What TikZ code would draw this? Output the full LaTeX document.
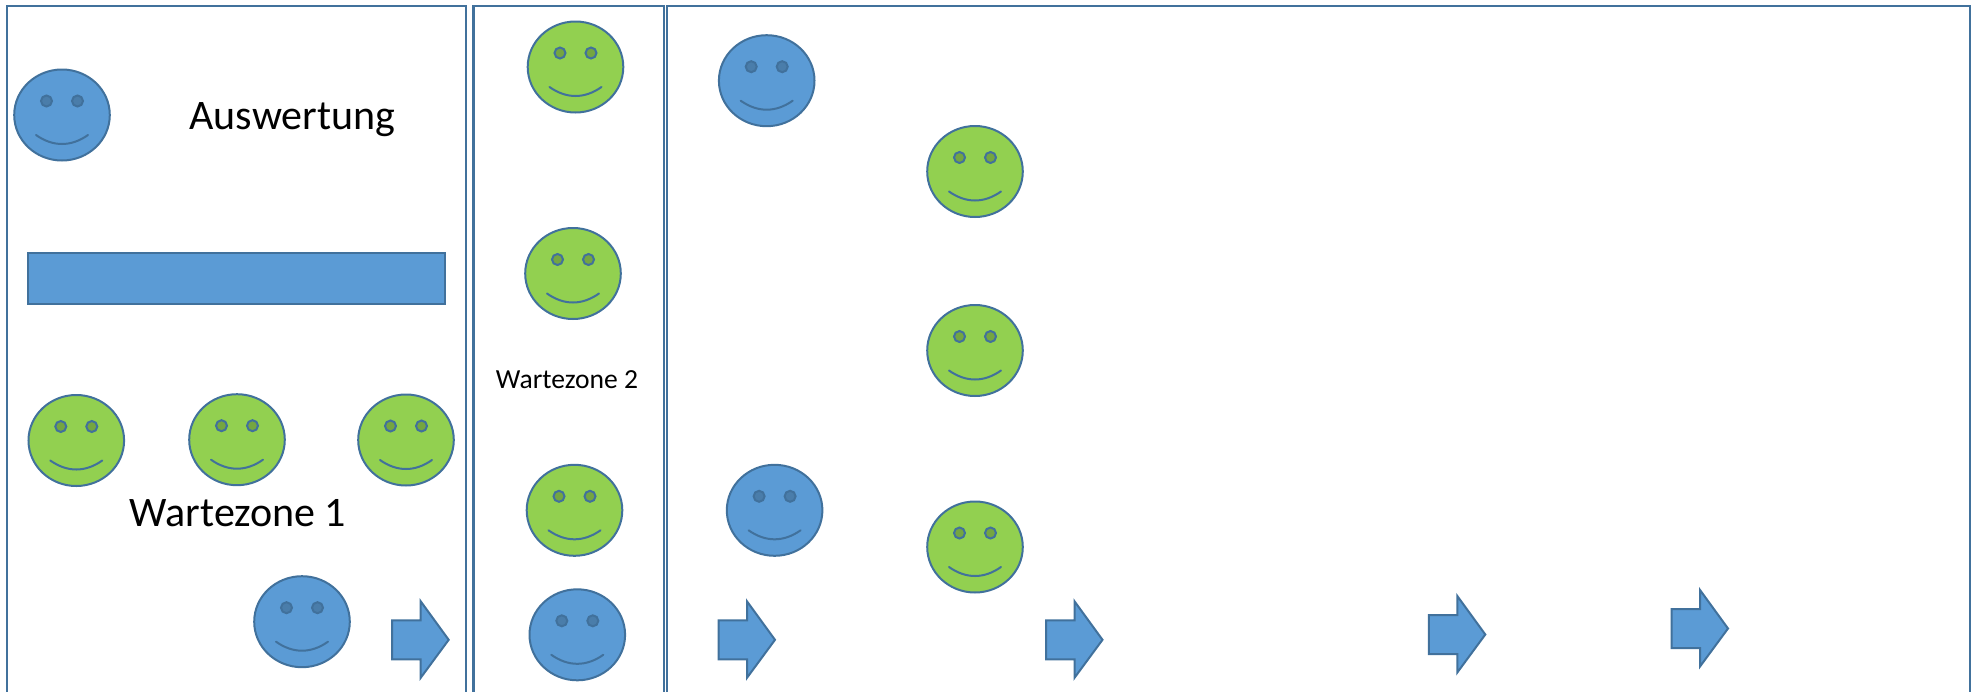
\documentclass[tikz,border=0pt]{standalone}
\usepackage{fontspec}
\setmainfont{Carlito}
\usetikzlibrary{shapes.geometric}
\definecolor{edgeblue}{HTML}{41719C}
\definecolor{fillblue}{HTML}{5B9BD5}
\definecolor{fillgreen}{HTML}{92D050}
\definecolor{eyeblue}{HTML}{4A7DAA}
\definecolor{eyegreen}{HTML}{75A640}
\tikzset{
  panel/.style={draw=edgeblue,line width=1.4pt},
  headshape/.style={ellipse,draw=edgeblue,line width=1pt,minimum width=47.8pt,minimum height=45.5pt,inner sep=0pt},
  blockshape/.style={draw=edgeblue,line width=1pt,fill=fillblue},
  eyeshape/.style={draw=edgeblue,line width=1pt},
  mouthshape/.style={draw=edgeblue,line width=1pt,line cap=round},
  caption/.style={inner sep=0pt,anchor=base,text=black},
}
\begin{document}
\begin{tikzpicture}[x=0.5pt,y=-0.5pt]
\useasboundingbox (0,0) rectangle (1975,691);
\draw[panel] (7,700) -- (7,6) -- (466,6) -- (466,700);
\draw[panel] (473.3,700) -- (473.3,6) -- (664,6) -- (664,700);
\draw[panel] (667,700) -- (667,6) -- (1970,6) -- (1970,700);
\draw[blockshape] (27.7,253.3) rectangle (445.3,304.3);
\node[caption,font=\fontsize{21pt}{24pt}\selectfont] (t1) at (292.5,129.5) {Auswertung};
\node[caption,font=\fontsize{21pt}{24pt}\selectfont] (t2) at (238,526) {Wartezone 1};
\node[caption,font=\fontsize{13.8pt}{16pt}\selectfont] (t3) at (567,388.7) {Wartezone 2};
\foreach \nm/\cx/\cy/\skin/\eye in {
  a/62/115/fillblue/eyeblue, b/575.5/67/fillgreen/eyegreen, c/573/273.5/fillgreen/eyegreen,
  d/76.3/440.5/fillgreen/eyegreen, e/237/439.7/fillgreen/eyegreen, f/406/440/fillgreen/eyegreen,
  g/574.5/510.3/fillgreen/eyegreen, h/302/621.7/fillblue/eyeblue, k/577.3/634.8/fillblue/eyeblue,
  j/766.7/80.7/fillblue/eyeblue, l/975/171.5/fillgreen/eyegreen, m/975/350.5/fillgreen/eyegreen,
  n/774.6/510.3/fillblue/eyeblue, o/975/547/fillgreen/eyegreen}{
  \node[headshape,fill=\skin] (\nm) at (\cx,\cy) {};
  \begin{scope}[shift={(\cx,\cy)}]
    \draw[eyeshape,fill=\eye] (-15.5,-14) circle[radius=5.5];
    \draw[eyeshape,fill=\eye] (15.5,-14) circle[radius=5.5];
    \draw[mouthshape] (-26,20) .. controls (-9,32) and (9,32) .. (26,20);
  \end{scope}
}
\foreach \ax/\ay in {392.2/598.3, 718.5/598.3, 1046/598.3, 1428.8/593, 1671.5/587}{
  \begin{scope}[shift={(\ax,\ay)}]
    \draw[blockshape] (0,22) -- (28.5,22) -- (28.5,3) -- (56.5,41.5) -- (28.5,79.5) -- (28.5,61) -- (0,61) -- cycle;
  \end{scope}
}
\end{tikzpicture}
\end{document}
